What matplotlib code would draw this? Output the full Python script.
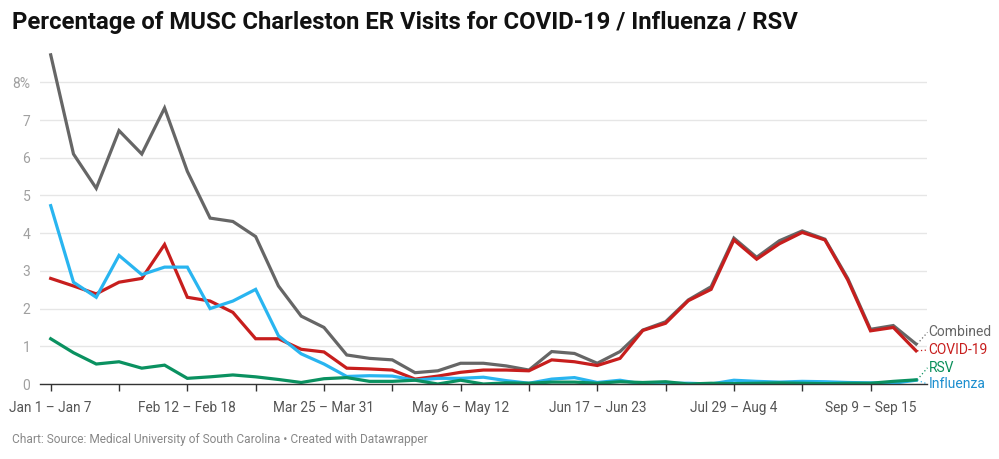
import matplotlib
matplotlib.use("Agg")
import matplotlib.pyplot as plt
import numpy as np

plt.rcParams['font.family'] = ['Roboto', 'DejaVu Sans']

# weekly data, Jan 1 - Sep 22
combined = [8.73, 6.1, 5.19, 6.72, 6.1, 7.32, 5.64, 4.4, 4.31, 3.91, 2.6, 1.8, 1.5,
            0.77, 0.68, 0.64, 0.30, 0.35, 0.55, 0.55, 0.48, 0.37, 0.86, 0.81, 0.55,
            0.86, 1.43, 1.65, 2.23, 2.58, 3.87, 3.36, 3.8, 4.06, 3.84, 2.8, 1.45, 1.55, 1.06]
covid = [2.8, 2.6, 2.39, 2.7, 2.8, 3.7, 2.3, 2.2, 1.9, 1.2, 1.2, 0.92, 0.85,
         0.42, 0.4, 0.37, 0.13, 0.21, 0.31, 0.37, 0.37, 0.35, 0.64, 0.59, 0.49,
         0.68, 1.42, 1.61, 2.21, 2.51, 3.82, 3.31, 3.72, 4.02, 3.82, 2.76, 1.41, 1.5, 0.88]
influenza = [4.73, 2.7, 2.3, 3.41, 2.9, 3.1, 3.1, 2.0, 2.2, 2.51, 1.28, 0.8, 0.53,
             0.2, 0.22, 0.21, 0.1, 0.15, 0.15, 0.18, 0.09, 0.02, 0.13, 0.17, 0.04,
             0.1, 0.0, 0.02, 0.02, 0.0, 0.1, 0.07, 0.05, 0.07, 0.06, 0.04, 0.03, 0.02, 0.1]
rsv = [1.2, 0.83, 0.53, 0.59, 0.42, 0.5, 0.15, 0.19, 0.24, 0.19, 0.12, 0.04, 0.14,
       0.17, 0.07, 0.07, 0.1, 0.0, 0.1, 0.0, 0.03, 0.02, 0.05, 0.05, 0.02,
       0.06, 0.04, 0.06, 0.0, 0.02, 0.01, 0.02, 0.03, 0.02, 0.01, 0.02, 0.02, 0.07, 0.11]

tick_labels = ["Jan 1 – Jan 7", "Feb 12 – Feb 18", "Mar 25 – Mar 31", "May 6 – May 12",
               "Jun 17 – Jun 23", "Jul 29 – Aug 4", "Sep 9 – Sep 15"]

series = [
    ("Combined", combined, "#666666", "#666666"),
    ("COVID-19", covid, "#c71e1d", "#c71e1d"),
    ("Influenza", influenza, "#29b5f0", "#1d8fcf"),
    ("RSV", rsv, "#0a9160", "#0a8f5a"),
]

x = np.arange(len(combined))

fig = plt.figure(figsize=(9.99, 4.59), dpi=100)
ax = fig.add_axes([40 / 999, 75 / 459, 887 / 999, 331.8 / 459])

for name, vals, col, _ in series:
    ax.plot(x, vals, color=col, lw=2.3, solid_joinstyle='miter', zorder=3)

ax.set_xlim(-0.47, 38.48)
ax.set_ylim(0, 8.8)

ax.set_yticks(range(0, 9))
ax.set_yticklabels([str(i) if i < 8 else "8%" for i in range(0, 9)])
ax.yaxis.grid(True, color="#e6e6e6", lw=1, zorder=0)
ax.tick_params(axis='y', length=0, pad=7, labelsize=10, labelcolor="#a0a0a0")

ax.set_xticks(np.arange(0, 39, 3), minor=False)
ax.set_xticklabels([tick_labels[i // 2] if i % 2 == 0 else "" for i in range(13)])
ax.tick_params(axis='x', length=5, width=1, color="#333333", pad=7,
               labelsize=9.8, labelcolor="#555555")

for s in ["top", "right", "left"]:
    ax.spines[s].set_visible(False)
ax.spines["bottom"].set_color("#333333")
ax.spines["bottom"].set_linewidth(1)
ax.spines["bottom"].set_zorder(4)

# direct labels with dotted connectors
label_y = {"Combined": 1.37, "COVID-19": 0.9, "RSV": 0.43, "Influenza": 0.0}
for name, vals, col, tcol in series:
    ly = label_y[name]
    ax.plot([38.05, 38.5], [vals[-1], ly], color=col, lw=0.9, ls=(0, (1, 2)),
            clip_on=False, zorder=2)
    ax.text(38.55, ly, name, color=tcol, fontsize=10, va='center', ha='left')

fig.text(12 / 999, 1 - 23 / 459, "Percentage of MUSC Charleston ER Visits for COVID-19 / Influenza / RSV",
         fontsize=17.2, fontweight='bold', va='center', ha='left', color="#111111")
fig.text(12 / 999, 1 - 440 / 459,
         "Chart: Source: Medical University of South Carolina • Created with Datawrapper",
         fontsize=8.6, va='center', ha='left', color="#888888")

fig.savefig("out.png", dpi=100)
